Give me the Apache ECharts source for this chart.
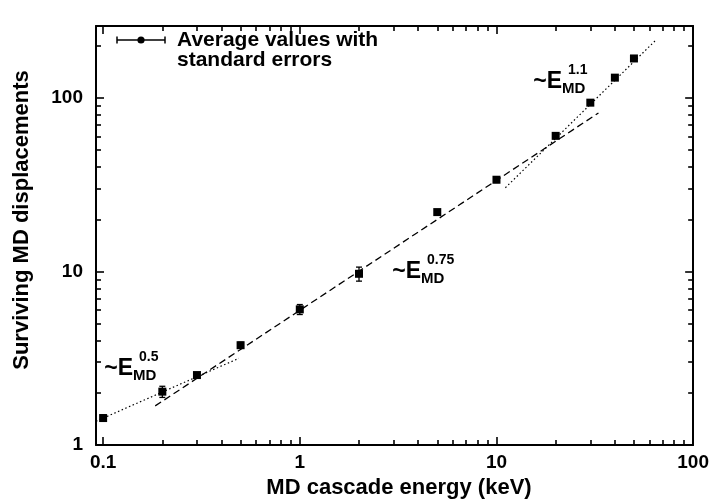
<!DOCTYPE html>
<html>
<head>
<meta charset="utf-8">
<script src="https://cdn.jsdelivr.net/npm/echarts@6/dist/echarts.min.js"></script>
<style>
  html, body { margin: 0; padding: 0; background: #fff; }
  #main { width: 712px; height: 500px; }
</style>
</head>
<body>
<div id="main"></div>
<script>
// 数据：平均值和标准误差
const energy = [0.1, 0.2, 0.3, 0.5, 1, 2, 5, 10, 20, 30, 40, 50];
const displacements = [1.43, 2.03, 2.53, 3.76, 6.05, 9.7, 22, 33.8, 60.5, 94, 131, 169];
const stdErrors = [0.06, 0.15, 0.08, 0.15, 0.4, 0.9, 0.7, 1.2, 2, 3, 3, 4];

// 三条拟合线的端点
const fitLow = [[0.092, 1.37], [0.49, 3.16]];    // ~E^0.5
const fitMid = [[0.184, 1.68], [33, 82]];        // ~E^0.75
const fitHigh = [[11.1, 30.4], [65, 217]];       // ~E^1.1

// 刻度
const xMajorTicks = [0.1, 1, 10, 100];
const xMinorTicks = [0.2, 0.3, 0.4, 0.5, 0.6, 0.7, 0.8, 0.9,
                     2, 3, 4, 5, 6, 7, 8, 9,
                     20, 30, 40, 50, 60, 70, 80, 90];
const yMajorTicks = [1, 10, 100];
const yMinorTicks = [2, 3, 4, 5, 6, 7, 8, 9,
                     20, 30, 40, 50, 60, 70, 80, 90, 200];

const xMin = 0.092, xMax = 100;
const yMin = 1, yMax = 260;

const FONT = 'Liberation Sans, Arial, Helvetica, sans-serif';

const points = energy.map(function (e, i) {
    return [e, displacements[i], stdErrors[i]];
});

function makeAxis(kind, position, ticks, len, showLabel) {
    const isX = kind === 'x';
    return {
        type: 'log',
        logBase: 10,
        position: position,
        min: isX ? xMin : yMin,
        max: isX ? xMax : yMax,
        axisLine: { show: len > 6, lineStyle: { color: '#000', width: 2 } },
        axisTick: {
            show: true,
            inside: true,
            length: len,
            customValues: ticks,
            lineStyle: { color: '#000', width: 1.6 }
        },
        axisLabel: {
            show: showLabel,
            customValues: ticks,
            margin: isX ? 8 : 13,
            color: '#000',
            fontFamily: FONT,
            fontWeight: 'bold',
            fontSize: 19,
            formatter: function (v) { return String(v); }
        },
        splitLine: { show: false },
        minorTick: { show: false },
        minorSplitLine: { show: false }
    };
}

// 误差棒 + 方块标记
function renderErrorBar(params, api) {
    const x = api.value(0), y = api.value(1), err = api.value(2);
    const c = api.coord([x, y]);
    const hi = api.coord([x, y + err]);
    const lo = api.coord([x, y - err]);
    const cap = 3;
    const st = { stroke: '#000', lineWidth: 1.3 };
    return {
        type: 'group',
        children: [
            { type: 'line', shape: { x1: c[0], y1: hi[1], x2: c[0], y2: lo[1] }, style: st },
            { type: 'line', shape: { x1: c[0] - cap, y1: hi[1], x2: c[0] + cap, y2: hi[1] }, style: st },
            { type: 'line', shape: { x1: c[0] - cap, y1: lo[1], x2: c[0] + cap, y2: lo[1] }, style: st },
            { type: 'rect', shape: { x: c[0] - 4, y: c[1] - 4, width: 8, height: 8 }, style: { fill: '#000' } }
        ]
    };
}

// ~E_MD^n 标注
function powerLabel(xRight, yMid, power) {
    return {
        type: 'group',
        children: [
            { type: 'text', x: xRight, y: yMid,
              style: { text: '~E', align: 'right', verticalAlign: 'middle', fill: '#000',
                       font: 'bold 23px ' + FONT } },
            { type: 'text', x: xRight, y: yMid + 7,
              style: { text: 'MD', align: 'left', verticalAlign: 'middle', fill: '#000',
                       font: 'bold 15px ' + FONT } },
            { type: 'text', x: xRight + 6, y: yMid - 12,
              style: { text: power, align: 'left', verticalAlign: 'middle', fill: '#000',
                       font: 'bold 14px ' + FONT } }
        ]
    };
}

const option = {
    backgroundColor: '#fff',
    animation: false,
    grid: { left: 96, right: 18, top: 26, bottom: 55, show: false },
    xAxis: [
        makeAxis('x', 'bottom', xMajorTicks, 8, true),
        makeAxis('x', 'bottom', xMinorTicks, 5, false),
        makeAxis('x', 'top', xMajorTicks, 8, false),
        makeAxis('x', 'top', xMinorTicks, 5, false)
    ],
    yAxis: [
        makeAxis('y', 'left', yMajorTicks, 8, true),
        makeAxis('y', 'left', yMinorTicks, 5, false),
        makeAxis('y', 'right', yMajorTicks, 8, false),
        makeAxis('y', 'right', yMinorTicks, 5, false)
    ],
    series: [
        {
            name: 'fit 0.5', type: 'line', data: fitLow, showSymbol: false, silent: true,
            lineStyle: { color: '#000', width: 1.2, type: [1.5, 2.5] }
        },
        {
            name: 'fit 0.75', type: 'line', data: fitMid, showSymbol: false, silent: true,
            lineStyle: { color: '#000', width: 1.3, type: [7, 4] }
        },
        {
            name: 'fit 1.1', type: 'line', data: fitHigh, showSymbol: false, silent: true,
            lineStyle: { color: '#000', width: 1.2, type: [1.5, 2.5] }
        },
        {
            name: 'Average values', type: 'custom', renderItem: renderErrorBar,
            data: points, encode: { x: 0, y: 1 }, clip: false
        }
    ],
    graphic: [
        // 图例
        {
            type: 'group',
            children: [
                { type: 'line', shape: { x1: 117, y1: 40, x2: 165, y2: 40 }, style: { stroke: '#000', lineWidth: 1.5 } },
                { type: 'line', shape: { x1: 117, y1: 36.5, x2: 117, y2: 43.5 }, style: { stroke: '#000', lineWidth: 1.5 } },
                { type: 'line', shape: { x1: 165, y1: 36.5, x2: 165, y2: 43.5 }, style: { stroke: '#000', lineWidth: 1.5 } },
                { type: 'circle', shape: { cx: 141, cy: 40, r: 3.6 }, style: { fill: '#000' } },
                { type: 'text', x: 177, y: 40,
                  style: { text: 'Average values with', verticalAlign: 'middle', fill: '#000', font: 'bold 21px ' + FONT } },
                { type: 'text', x: 177, y: 60,
                  style: { text: 'standard errors', verticalAlign: 'middle', fill: '#000', font: 'bold 21px ' + FONT } }
            ]
        },
        powerLabel(133, 369, '0.5'),
        powerLabel(421, 272, '0.75'),
        powerLabel(562, 82, '1.1'),
        // 坐标轴标题
        { type: 'text', x: 22, y: 220, rotation: Math.PI / 2,
          style: { text: 'Surviving MD displacements', align: 'center', verticalAlign: 'middle',
                   fill: '#000', font: 'bold 22px ' + FONT } },
        { type: 'text', x: 399, y: 488,
          style: { text: 'MD cascade energy (keV)', align: 'center', verticalAlign: 'middle',
                   fill: '#000', font: 'bold 22px ' + FONT } }
    ]
};

const myChart = echarts.init(document.getElementById('main'), null, { renderer: 'canvas' });
myChart.setOption(option);
</script>
</body>
</html>
